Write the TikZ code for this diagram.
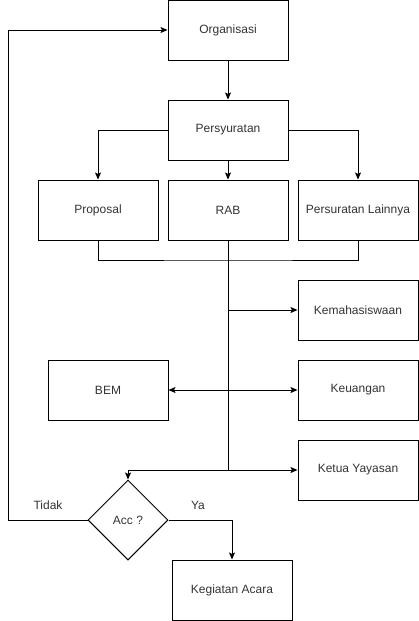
\documentclass[tikz,border=0pt]{standalone}
\usepackage{fontspec}
\setmainfont{Liberation Sans}
\usetikzlibrary{arrows.meta,shapes.geometric}
\begin{document}
\begin{tikzpicture}[x=1pt,y=-1pt,
  every node/.style={font=\fontsize{12}{14}\selectfont, text=black!80},
  box/.style={draw=black, line width=1pt, minimum width=120pt, minimum height=60pt, inner sep=0pt},
  dec/.style={draw=black, line width=1pt, diamond, aspect=1, minimum width=80pt, minimum height=80pt, inner sep=0pt},
  conn/.style={line width=1pt, draw=black},
  arr/.style={conn, -{Stealth[length=7pt,width=6pt,inset=1.5pt]}},
  lbl/.style={inner sep=0pt}]
\useasboundingbox (0,0) rectangle (419,621);
\node[box] (org) at (228,30) {Organisasi};
\node[box] (per) at (228,130) {Persyuratan};
\node[box] (prop) at (98,210) {Proposal};
\node[box] (rab) at (228,210) {RAB};
\node[box] (lain) at (358,210) {Persuratan Lainnya};
\node[box] (kem) at (358,310) {Kemahasiswaan};
\node[box] (bem) at (108,390) {BEM};
\node[box] (keu) at (358,390) {Keuangan};
\node[box] (ket) at (358,470) {Ketua Yayasan};
\node[dec] (acc) at (128,520) {Acc ?};
\node[box] (keg) at (232,590) {Kegiatan Acara};
\coordinate (j1) at (228,260);
\coordinate (j2) at (228,310);
\coordinate (j3) at (228,390);
\coordinate (j4) at (228,470);
\coordinate (lb) at (8,520);
\coordinate (lt) at (8,30);
\draw[arr] (org) -- (per);
\draw[arr] (per.west) -| (prop.north);
\draw[arr] (per) -- (rab);
\draw[arr] (per.east) -| (lain.north);
\draw[conn] (prop.south) |- (j1) -| (lain.south);
\draw[conn] (rab.south) -- (j4);
\draw[arr] (j2) -- (kem.west);
\draw[arr] (j3) -- (bem.east);
\draw[arr] (j3) -- (keu.west);
\draw[arr] (j4) -- (ket.west);
\draw[arr] (j4) -| (acc.north);
\draw[arr] (acc.west) -- (lb) -- (lt) -- (org.west);
\draw[arr] (acc.east) -| (keg.north);
\node[lbl] (tidak) at (48,505) {Tidak};
\node[lbl] (ya) at (198,505) {Ya};
\end{tikzpicture}
\end{document}
